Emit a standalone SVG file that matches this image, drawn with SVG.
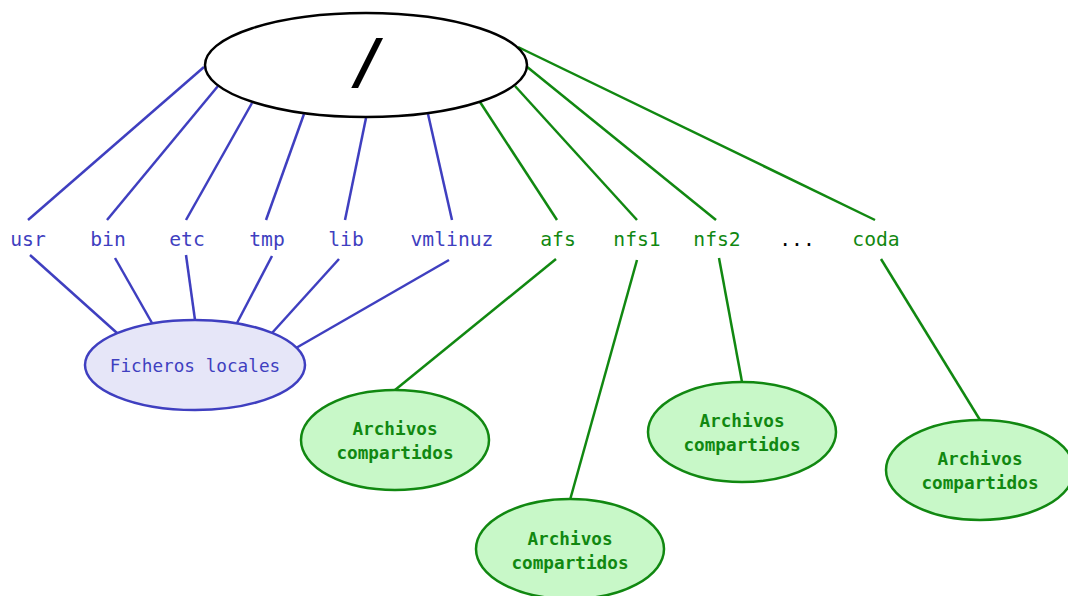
<svg xmlns="http://www.w3.org/2000/svg" width="1068" height="596" viewBox="0 0 1068 596">
  <style>
    .bg { fill: #ffffff; }
    .root { fill: #ffffff; stroke: #000000; stroke-width: 2.5; }
    .local { fill: #e6e6f8; stroke: #3f3fc0; stroke-width: 2.5; }
    .shared { fill: #c8f8c8; stroke: #118811; stroke-width: 2.5; }
    .lb { stroke: #3f3fc0; stroke-width: 2.5; fill: none; }
    .lg { stroke: #118811; stroke-width: 2.5; fill: none; }
    .t { font-family: "DejaVu Sans Mono", "Liberation Mono", monospace; font-size: 19.7px; text-anchor: middle; }
    .tb { fill: #3f3fc0; }
    .tg { fill: #118811; }
    .tk { fill: #000000; }
    .loc { font-family: "DejaVu Sans Mono", "Liberation Mono", monospace; font-size: 17.7px; text-anchor: middle; fill: #3f3fc0; }
    .sh { font-family: "DejaVu Sans Mono", "Liberation Mono", monospace; font-size: 17.7px; font-weight: bold; text-anchor: middle; fill: #118811; }
  </style>
  <rect class="bg" x="0" y="0" width="1068" height="596"/>

  <g id="connectors">
    <!-- root to local directories -->
    <line class="lb" x1="204" y1="67" x2="28" y2="220"/>
    <line class="lb" x1="218" y1="86" x2="107" y2="220"/>
    <line class="lb" x1="252" y1="103" x2="186" y2="220"/>
    <line class="lb" x1="304" y1="114" x2="266" y2="220"/>
    <line class="lb" x1="366" y1="118" x2="345" y2="220"/>
    <line class="lb" x1="428" y1="114" x2="452" y2="220"/>
    <!-- root to shared mounts -->
    <line class="lg" x1="480" y1="102" x2="557" y2="220"/>
    <line class="lg" x1="515" y1="86" x2="637" y2="220"/>
    <line class="lg" x1="526" y1="66" x2="716" y2="220"/>
    <line class="lg" x1="518" y1="47" x2="875" y2="220"/>
    <!-- local directories to local files -->
    <line class="lb" x1="30" y1="255" x2="117" y2="333"/>
    <line class="lb" x1="115" y1="258" x2="152" y2="323"/>
    <line class="lb" x1="186" y1="255" x2="195" y2="320"/>
    <line class="lb" x1="272" y1="256" x2="237" y2="323"/>
    <line class="lb" x1="339" y1="259" x2="272" y2="333"/>
    <line class="lb" x1="449" y1="260" x2="296" y2="348"/>
    <!-- mounts to shared files -->
    <line class="lg" x1="556" y1="259" x2="395" y2="390"/>
    <line class="lg" x1="637" y1="260" x2="570" y2="500"/>
    <line class="lg" x1="719" y1="258" x2="742" y2="382"/>
    <line class="lg" x1="881" y1="259" x2="980" y2="420"/>
  </g>

  <g id="root">
    <ellipse class="root" cx="366" cy="65" rx="161" ry="52"/>
    <text x="368" y="82" font-family="DejaVu Sans, Liberation Sans, sans-serif" font-size="60" font-weight="bold" font-style="italic" text-anchor="middle" fill="#000">/</text>
  </g>

  <g id="usr"><text class="t tb" x="28" y="246">usr</text></g>
  <g id="bin"><text class="t tb" x="108" y="246">bin</text></g>
  <g id="etc"><text class="t tb" x="187" y="246">etc</text></g>
  <g id="tmp"><text class="t tb" x="267" y="246">tmp</text></g>
  <g id="lib"><text class="t tb" x="346" y="246">lib</text></g>
  <g id="vmlinuz"><text class="t tb" x="452" y="246">vmlinuz</text></g>
  <g id="afs"><text class="t tg" x="558" y="246">afs</text></g>
  <g id="nfs1"><text class="t tg" x="637" y="246">nfs1</text></g>
  <g id="nfs2"><text class="t tg" x="717" y="246">nfs2</text></g>
  <g id="more"><text class="t tk" x="797" y="246">...</text></g>
  <g id="coda"><text class="t tg" x="876" y="246">coda</text></g>

  <g id="local-files">
    <ellipse class="local" cx="195" cy="365" rx="110" ry="45"/>
    <text class="loc" x="195" y="372">Ficheros locales</text>
  </g>

  <g id="shared-afs">
    <ellipse class="shared" cx="395" cy="440" rx="94" ry="50"/>
    <text class="sh" x="395" y="435">Archivos</text>
    <text class="sh" x="395" y="459">compartidos</text>
  </g>
  <g id="shared-nfs1">
    <ellipse class="shared" cx="570" cy="549" rx="94" ry="50"/>
    <text class="sh" x="570" y="545">Archivos</text>
    <text class="sh" x="570" y="569">compartidos</text>
  </g>
  <g id="shared-nfs2">
    <ellipse class="shared" cx="742" cy="432" rx="94" ry="50"/>
    <text class="sh" x="742" y="427">Archivos</text>
    <text class="sh" x="742" y="451">compartidos</text>
  </g>
  <g id="shared-coda">
    <ellipse class="shared" cx="980" cy="470" rx="94" ry="50"/>
    <text class="sh" x="980" y="465">Archivos</text>
    <text class="sh" x="980" y="489">compartidos</text>
  </g>
</svg>
